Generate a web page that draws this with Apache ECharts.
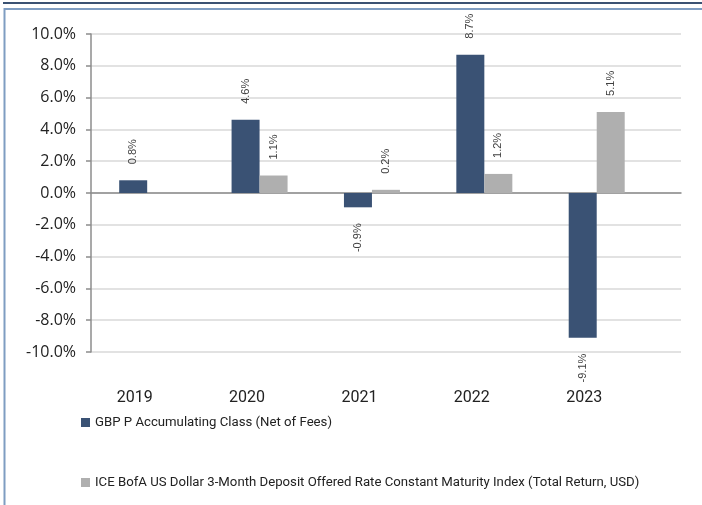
<!DOCTYPE html>
<html>
<head>
<meta charset="utf-8">
<script src="https://cdn.jsdelivr.net/npm/echarts@6/dist/echarts.min.js"></script>
<style>
  html, body { margin: 0; padding: 0; background: #fff; }
  #chart { width: 702px; height: 505px; }
</style>
</head>
<body>
<div id="chart"></div>
<script>
// values
const years = ['2019', '2020', '2021', '2022', '2023'];
const fundName = 'GBP P Accumulating Class (Net of Fees)';
const indexName = 'ICE BofA US Dollar 3-Month Deposit Offered Rate Constant Maturity Index (Total Return, USD)';
const fundReturns = [0.8, 4.6, -0.9, 8.7, -9.1];
const indexReturns = [null, 1.1, 0.2, 1.2, 5.1];
const yMin = -10;
const yMax = 10;
const yStep = 2;

const BLUE = '#3a5274';
const GREY = '#afafaf';
const AXIS = '#8c8c8c';
const NARROW = 'Roboto';

const pct = v => v.toFixed(1) + '%';

// rotated labels sit above positive bars and below negative ones
const toPoints = vals => vals.map((v, i) => {
  if (v == null) return [i, null];
  const neg = v < 0;
  return {
    value: [i, v],
    label: { position: neg ? 'bottom' : 'top', align: neg ? 'right' : 'left' },
  };
});

const chart = echarts.init(document.getElementById('chart'));

const barLabel = {
  show: true,
  rotate: 90,
  distance: 16,
  verticalAlign: 'middle',
  fontFamily: 'Liberation Sans',
  fontSize: 11,
  color: '#404040',
  formatter: p => pct(p.value[1]),
};

chart.setOption({
  animation: false,
  graphic: [
    { type: 'rect', shape: { x: 3, y: 2, width: 710, height: 2 }, style: { fill: '#3b5273' }, silent: true },
    { type: 'rect', shape: { x: 4.5, y: 9, width: 720, height: 520 }, style: { fill: 'none', stroke: '#7f9dc2', lineWidth: 2 }, silent: true },
  ],
  grid: { left: 91, right: 21, top: 34, bottom: 153 },
  legend: {
    orient: 'vertical',
    left: 81,
    top: 414,
    padding: 0,
    itemGap: 43,
    itemWidth: 9,
    itemHeight: 9,
    icon: 'rect',
    textStyle: { fontFamily: NARROW, fontSize: 13.2, color: '#222', lineHeight: 17 },
    data: [fundName, indexName],
  },
  xAxis: [
    {
      type: 'value',
      min: -0.5,
      max: 4.75,
      axisLine: { onZero: true, lineStyle: { color: AXIS, width: 1.5 } },
      axisTick: { show: false },
      axisLabel: { show: false },
      splitLine: { show: false },
    },
    {
      type: 'value',
      position: 'bottom',
      min: -0.5,
      max: 4.75,
      axisLine: { show: false },
      axisTick: { show: false },
      splitLine: { show: false },
      axisLabel: {
        customValues: years.map((_, i) => i),
        formatter: v => years[Math.round(v)] || '',
        margin: 38,
        padding: [0, 25, 0, 0],
        fontFamily: NARROW,
        fontSize: 16,
        color: '#222',
      },
    },
  ],
  yAxis: {
    type: 'value',
    min: yMin,
    max: yMax,
    interval: yStep,
    axisLine: { show: true, onZero: false, lineStyle: { color: AXIS, width: 1.5 } },
    axisTick: { show: true, length: 5, lineStyle: { color: AXIS, width: 1.5 } },
    axisLabel: { formatter: pct, margin: 15, fontFamily: 'Open Sans', fontSize: 16, color: '#222' },
    splitLine: { lineStyle: { color: '#d9d9d9', width: 1.5 } },
  },
  series: [
    {
      name: fundName,
      type: 'bar',
      xAxisIndex: 0,
      barWidth: 28,
      barGap: '0%',
      itemStyle: { color: BLUE },
      label: barLabel,
      data: toPoints(fundReturns),
    },
    {
      name: indexName,
      type: 'bar',
      xAxisIndex: 0,
      barWidth: 28,
      barGap: '0%',
      itemStyle: { color: GREY },
      label: barLabel,
      data: toPoints(indexReturns),
    },
  ],
});
</script>
</body>
</html>
